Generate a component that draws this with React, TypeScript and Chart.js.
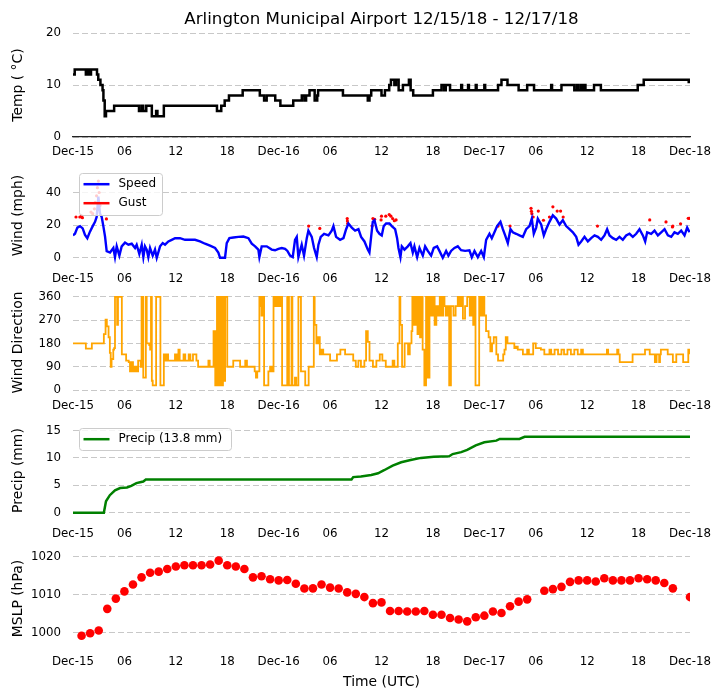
import React, { useEffect, useRef } from 'react';
import { Chart, registerables } from 'chart.js';

Chart.register(...registerables);

const FONT = 'DejaVu Sans';
const TITLE = 'Arlington Municipal Airport 12/15/18 - 12/17/18';

// x axis: hours since Dec-15 00 UTC
const HOUR_TICKS = [0, 6, 12, 18, 24, 30, 36, 42, 48, 54, 60, 66, 72];
const HOUR_LABELS = ['Dec-15', '06', '12', '18', 'Dec-16', '06', '12', '18', 'Dec-17', '06', '12', '18', 'Dec-18'];

// [hour, °C] (value holds until next entry)
const temperature: number[][] = [
  [0, 12], [0.2, 13], [1.5, 12], [1.7, 13], [1.95, 12], [2.1, 13], [2.8, 12], [2.95, 11], [3.2, 10], [3.45, 9],
  [3.55, 7], [3.7, 4], [3.85, 5], [4.8, 6], [7.7, 5], [8.0, 6], [8.2, 5], [8.55, 6], [9.2, 4], [9.7, 5],
  [9.85, 4], [10.6, 6], [16.8, 5], [17.3, 6], [17.7, 7], [18.2, 8], [19.8, 9], [21.8, 8], [22.3, 7], [22.6, 8],
  [23.6, 7], [24.2, 6], [25.7, 7], [26.7, 8], [27.0, 7], [27.2, 8], [27.6, 9], [28.2, 7], [28.5, 8], [28.6, 9],
  [31.5, 8], [34.4, 7], [34.6, 8], [34.8, 9], [36.0, 8], [36.4, 9], [36.9, 10], [37.1, 11], [37.5, 10], [37.7, 11],
  [38.0, 9], [38.5, 10], [39.2, 11], [39.4, 9], [39.7, 8], [42.0, 9], [43.0, 10], [43.3, 9], [43.5, 10], [44.0, 9],
  [45.3, 10], [45.4, 9], [46.1, 10], [46.2, 9], [47.0, 10], [47.1, 9], [48.0, 10], [48.1, 9], [49.6, 10], [50.0, 11],
  [50.7, 10], [52.0, 9], [53.0, 10], [53.8, 9], [55.8, 10], [55.9, 9], [57.0, 10], [58.5, 9], [58.8, 10], [59.0, 9],
  [59.3, 10], [59.5, 9], [59.6, 10], [59.8, 9], [60.8, 10], [61.6, 9], [65.9, 10], [66.6, 11], [71.85, 10.6], [72, 10.6],
];

// [hour, mph]
const windSpeed: number[][] = [
  [0, 13.7], [0.23, 14.7], [0.51, 18.5], [0.82, 19.4], [1.13, 18], [1.4, 14], [1.67, 12], [1.98, 16], [2.3, 19.4], [2.57, 22],
  [2.76, 25], [2.96, 37.5], [3.15, 27], [3.35, 25], [3.54, 19.4], [3.74, 13], [3.93, 4], [4.32, 3.2], [4.71, 6], [4.9, 0.4],
  [5.1, 7], [5.41, 1.3], [5.68, 7], [6.07, 9.3], [6.46, 8], [6.85, 8.6], [7.24, 6], [7.43, 8], [7.74, 2.3], [8.02, 8],
  [8.21, 0.4], [8.4, 7], [8.6, 5], [8.79, 0.4], [8.99, 6], [9.3, 1.3], [9.57, 5], [9.77, 0], [10.16, 7], [10.47, 9],
  [10.74, 8], [11.13, 10], [11.52, 11], [11.91, 12], [12.49, 12], [13.07, 11], [13.66, 11], [14.24, 11], [14.82, 10], [15.41, 8.6],
  [15.99, 7.4], [16.58, 6], [16.96, 3.2], [17.16, 0], [17.47, 0], [17.74, 0], [17.94, 9], [18.25, 12], [18.72, 12.4], [19.3, 12.8],
  [19.88, 13], [20.47, 12], [20.86, 8.6], [21.25, 7], [21.63, 5], [21.75, 0.4], [22.02, 7], [22.61, 7], [23.19, 5], [23.58, 4.6],
  [23.97, 5.5], [24.36, 6], [24.75, 5.5], [25.02, 4.2], [25.33, 1.3], [25.64, 0.4], [25.91, 11], [26.11, 12.8], [26.3, 0.4], [26.69, 8],
  [26.96, 1.3], [27.28, 12], [27.47, 16.6], [27.86, 12.8], [28.13, 6], [28.44, 0.4], [28.64, 8], [28.91, 12.8], [29.3, 14.7], [29.81, 13.7],
  [30.19, 16.6], [30.39, 19.4], [30.7, 12.8], [31.17, 11], [31.56, 12], [31.87, 17.5], [32.14, 21], [32.53, 18.5], [32.92, 16.6], [33.31, 17.5],
  [33.62, 12.8], [34.01, 10], [34.4, 5], [34.59, 3.2], [34.79, 12.8], [34.98, 22], [35.18, 23], [35.49, 16.6], [35.76, 14.7], [36.03, 13.7],
  [36.26, 19.4], [36.54, 21], [36.93, 21], [37.2, 19.4], [37.59, 17.5], [37.82, 12], [37.98, 6], [38.21, 0.4], [38.37, 7], [38.68, 5],
  [39.07, 7], [39.38, 9], [39.65, 3.2], [39.84, 7], [40.16, 0.4], [40.43, 6], [40.82, 1.3], [41.09, 7], [41.4, 4.2], [41.79, 1.3],
  [42.1, 6], [42.49, 7], [42.76, 4.2], [43.15, 0], [43.54, 4.2], [43.81, 1.3], [44.12, 4.2], [44.51, 6], [44.9, 7], [45.29, 4.6],
  [45.76, 4.2], [46.26, 4.6], [46.54, 0.4], [46.85, 4.2], [47.24, 0.4], [47.63, 4.2], [47.94, 0.4], [48.21, 11], [48.6, 14.7], [48.87, 12],
  [49.18, 15.6], [49.49, 19.4], [49.88, 22], [50.16, 17.5], [50.43, 13.7], [50.74, 9], [51.05, 17.5], [51.32, 15.6], [51.71, 14.7], [52.1, 13.7],
  [52.49, 12.8], [52.88, 17.5], [53.27, 19.4], [53.54, 24], [53.77, 14.7], [54.05, 18.5], [54.24, 24], [54.63, 20.4], [54.94, 13.7], [55.21, 17.5],
  [55.6, 22], [55.99, 26], [56.38, 24], [56.77, 20.4], [57.16, 23], [57.55, 19.4], [57.94, 17.5], [58.33, 15.6], [58.72, 12.8], [58.99, 8],
  [59.3, 10], [59.69, 12.8], [60.08, 10], [60.47, 12], [60.86, 13.7], [61.25, 12.8], [61.63, 11], [62.02, 13.7], [62.33, 17.5], [62.61, 13.7],
  [63.0, 12], [63.39, 11], [63.77, 12.8], [64.16, 11], [64.55, 13.7], [64.94, 14.7], [65.33, 12.8], [65.72, 14.7], [66.11, 17.5], [66.5, 13.7],
  [66.77, 10], [67.0, 15.6], [67.47, 14.7], [67.86, 16.6], [68.25, 13.7], [68.64, 15.6], [69.03, 17.5], [69.42, 13.7], [69.81, 12.8], [70.19, 15.6],
  [70.58, 14.7], [70.97, 16.6], [71.36, 13.7], [71.67, 18.5], [71.95, 15.6],
];

// [hour, mph]
const windGust: number[][] = [
  [0.35, 25], [0.8, 25], [1.0, 25.7], [1.1, 24.6], [2.1, 28], [2.3, 27], [2.5, 30], [2.6, 34], [2.75, 38], [2.85, 43],
  [2.96, 47], [3.05, 40], [3.15, 32], [3.9, 23.8], [27.5, 19.4], [28.8, 18], [32.0, 24], [32.02, 22.5], [32.05, 21], [34.9, 19.4],
  [35.0, 24], [35.2, 23.6], [35.95, 23.2], [36.0, 25.5], [36.5, 25.5], [36.9, 26.5], [37.1, 25.5], [37.3, 24], [37.5, 22.7], [37.7, 23.2],
  [49.6, 19.4], [51.0, 19.4], [53.45, 30.3], [53.5, 28.5], [53.55, 27], [53.7, 25], [54.3, 28.6], [54.9, 23], [55.6, 25], [56.0, 31.2],
  [56.5, 28.6], [56.9, 28.6], [57.2, 25], [61.2, 19.4], [67.3, 23.2], [69.2, 22], [69.95, 18.9], [70.0, 19.4], [70.9, 20.8], [71.8, 24.2],
  [71.95, 24.2],
];

// [hour, degrees] (value holds until next entry)
const windDirection: number[][] = [
  [0, 180], [1.5, 160], [2.2, 180], [3.6, 216], [3.8, 272], [3.95, 246], [4.15, 204], [4.3, 144], [4.4, 90], [4.5, 120],
  [4.7, 156], [4.8, 162], [4.9, 360], [5.15, 252], [5.25, 360], [5.7, 138], [6.2, 114], [6.5, 108], [6.65, 72], [6.85, 108],
  [7.0, 72], [7.2, 90], [7.4, 72], [7.6, 114], [7.9, 90], [8.0, 360], [8.2, 48], [8.5, 360], [8.6, 180], [8.9, 174],
  [9.0, 156], [9.1, 360], [9.2, 36], [9.3, 18], [9.7, 360], [10.2, 18], [10.6, 138], [10.75, 114], [10.9, 138], [11.1, 114],
  [11.9, 138], [12.1, 114], [12.3, 156], [12.45, 114], [12.9, 138], [13.1, 114], [13.5, 138], [13.7, 114], [14.0, 138], [14.4, 114],
  [14.6, 90], [15.8, 114], [15.95, 90], [16.4, 228], [16.6, 18], [16.8, 360], [17.0, 18], [17.2, 360], [17.35, 18], [17.5, 360],
  [17.6, 36], [17.75, 360], [18.0, 90], [18.7, 114], [19.5, 90], [20.1, 114], [20.3, 90], [21.2, 72], [21.35, 48], [21.5, 72],
  [21.75, 360], [21.9, 324], [22.0, 288], [22.1, 360], [22.3, 18], [22.8, 72], [23.0, 90], [23.2, 72], [23.4, 360], [23.6, 324],
  [23.8, 360], [24.0, 324], [24.2, 360], [24.4, 18], [25.0, 360], [25.2, 18], [25.5, 360], [25.6, 18], [25.9, 48], [26.05, 18],
  [26.3, 360], [26.6, 72], [27.1, 18], [27.5, 90], [28.1, 360], [28.2, 252], [28.4, 180], [28.6, 204], [28.8, 138], [29.0, 156],
  [29.2, 138], [30.0, 114], [30.8, 138], [31.2, 156], [31.75, 138], [32.7, 114], [33.0, 90], [33.3, 114], [33.6, 90], [34.0, 114],
  [34.2, 228], [34.4, 186], [34.6, 114], [35.0, 90], [35.4, 114], [35.8, 138], [36.1, 114], [36.5, 90], [37.3, 114], [37.5, 90],
  [37.9, 180], [38.1, 360], [38.2, 252], [38.4, 90], [38.7, 180], [39.1, 138], [39.3, 180], [39.5, 228], [39.6, 360], [39.8, 252],
  [40.0, 360], [40.2, 216], [40.35, 360], [40.5, 204], [40.65, 360], [40.8, 156], [41.0, 18], [41.2, 360], [41.4, 48], [41.6, 360],
  [41.8, 288], [42.0, 360], [42.2, 252], [42.4, 324], [42.6, 288], [42.8, 360], [43.0, 288], [43.2, 360], [43.35, 324], [43.5, 288],
  [43.7, 324], [43.9, 18], [44.1, 324], [44.4, 288], [44.65, 324], [44.9, 360], [45.1, 324], [45.3, 360], [45.5, 276], [45.75, 324],
  [46.0, 360], [46.3, 288], [46.5, 360], [46.7, 252], [46.9, 360], [46.97, 18], [47.4, 360], [47.6, 288], [47.8, 360], [48.0, 288],
  [48.2, 228], [48.5, 204], [48.7, 150], [48.9, 180], [49.1, 204], [49.4, 138], [49.6, 114], [50.2, 138], [50.35, 156], [50.5, 204],
  [50.7, 180], [51.5, 162], [51.7, 168], [51.9, 156], [52.5, 138], [53.0, 156], [53.2, 138], [53.7, 180], [54.0, 162], [54.6, 156],
  [55.0, 138], [55.6, 156], [55.8, 138], [56.2, 156], [56.6, 138], [57.0, 156], [57.3, 138], [57.7, 156], [58.1, 138], [58.5, 156],
  [58.9, 138], [59.3, 156], [59.5, 138], [62.3, 156], [62.45, 138], [63.5, 156], [63.65, 138], [63.8, 108], [65.3, 138], [66.75, 156],
  [67.3, 138], [67.9, 108], [68.1, 138], [68.4, 108], [68.5, 138], [68.6, 156], [69.4, 138], [70.0, 108], [70.4, 138], [71.2, 108],
  [71.8, 156], [72.0, 138],
];

// [hour, mm accumulated]
const precipitation: number[][] = [
  [0, 0], [3.6, 0], [3.85, 2.1], [4.3, 3.2], [4.9, 4.1], [5.5, 4.5], [6.3, 4.6], [6.8, 4.9], [7.4, 5.4], [8.2, 5.7],
  [8.5, 6.05], [32.5, 6.05], [32.7, 6.5], [33.6, 6.6], [34.8, 6.9], [35.6, 7.2], [36.3, 7.75], [37.3, 8.6], [38.3, 9.2], [39.4, 9.6],
  [40.6, 10.0], [42.1, 10.2], [43.9, 10.3], [44.3, 10.7], [45.3, 11.05], [46.0, 11.45], [47.0, 12.3], [48.0, 12.85], [49.4, 13.15], [49.8, 13.45],
  [52.1, 13.45], [52.7, 13.85], [72, 13.85],
];

const mslpHours = [
  1, 2, 3, 4, 5, 6, 7, 8, 9, 10, 11, 12, 13, 14, 15, 16, 17, 18, 19, 20,
  21, 22, 23, 24, 25, 26, 27, 28, 29, 30, 31, 32, 33, 34, 35, 36, 37, 38, 39, 40,
  41, 42, 43, 44, 45, 46, 47, 48, 49, 50, 51, 52, 53, 55, 56, 57, 58, 59, 60, 61,
  62, 63, 64, 65, 66, 67, 68, 69, 70, 72,
];
const mslpValues = [
  999.2, 999.85, 1000.6, 1006.3, 1009.0, 1010.9, 1012.7, 1014.6, 1015.8, 1016.1, 1016.8, 1017.45, 1017.8, 1017.8, 1017.8, 1018.0, 1019.0, 1017.8, 1017.45, 1016.8,
  1014.6, 1014.9, 1014.1, 1013.8, 1013.9, 1012.9, 1011.65, 1011.7, 1012.7, 1011.9, 1011.65, 1010.65, 1010.25, 1009.4, 1007.8, 1008.0, 1005.75, 1005.75, 1005.6, 1005.6,
  1005.75, 1004.75, 1004.75, 1003.9, 1003.5, 1003.0, 1004.1, 1004.5, 1005.6, 1005.2, 1007.0, 1008.2, 1008.8, 1011.05, 1011.5, 1012.1, 1013.4, 1013.8, 1013.8, 1013.5,
  1014.35, 1013.8, 1013.8, 1013.8, 1014.35, 1014.1, 1013.8, 1013.1, 1011.7, 1009.4,
];

const TEMP_TICKS = [0, 10, 20];
const WIND_TICKS = [0, 20, 40];
const DIR_TICKS = [0, 90, 180, 270, 360];
const PRECIP_TICKS = [0, 5, 10, 15];
const MSLP_TICKS = [1000, 1010, 1020];

const PRECIP_LABEL = 'Precip (13.8 mm)';

const toXY = (rows: number[][]) => rows.map((r) => ({ x: r[0], y: r[1] }));

const PLOT_H = 104;

type LegendItem = { label: string; color: string };
type PanelSpec = {
  top: number;
  padTop: number;
  xH: number;
  yMin: number;
  yMax: number;
  yTicks: number[];
  yTitle: string;
  datasets: any[];
  xBorder?: boolean;
  xTitle?: string;
  title?: string;
  legend?: { items: LegendItem[]; width: number };
};

const PANELS: PanelSpec[] = [
  {
    top: 0, padTop: 33, xH: 24, yMin: 0, yMax: 20, yTicks: TEMP_TICKS, yTitle: 'Temp ( °C)',
    xBorder: true, title: TITLE,
    datasets: [{ data: toXY(temperature), borderColor: '#000000', borderWidth: 2.5, pointRadius: 0, stepped: true }],
  },
  {
    top: 148, padTop: 12, xH: 24, yMin: -3.83, yMax: 55.6, yTicks: WIND_TICKS, yTitle: 'Wind (mph)',
    legend: { items: [{ label: 'Speed', color: '#0000ff' }, { label: 'Gust', color: '#ff0000' }], width: 83 },
    datasets: [
      { data: toXY(windSpeed), borderColor: '#0000ff', borderWidth: 2.4, pointRadius: 0, tension: 0 },
      { data: toXY(windGust), showLine: false, pointRadius: 1.6, pointBackgroundColor: '#ff0000', pointBorderWidth: 0, borderColor: '#ff0000' },
    ],
  },
  {
    top: 275, padTop: 12, xH: 24, yMin: -3.6, yMax: 370.8, yTicks: DIR_TICKS, yTitle: 'Wind Direction',
    datasets: [{ data: toXY(windDirection), borderColor: '#ffa500', borderWidth: 1.8, pointRadius: 0, stepped: true }],
  },
  {
    top: 403, padTop: 12, xH: 24, yMin: -1.14, yMax: 16.53, yTicks: PRECIP_TICKS, yTitle: 'Precip (mm)',
    legend: { items: [{ label: PRECIP_LABEL, color: '#008000' }], width: 152 },
    datasets: [{ data: toXY(precipitation), borderColor: '#008000', borderWidth: 2.5, pointRadius: 0 }],
  },
  {
    top: 531, padTop: 12, xH: 46, yMin: 996.24, yMax: 1021.79, yTicks: MSLP_TICKS, yTitle: 'MSLP (hPa)',
    xTitle: 'Time (UTC)',
    datasets: [{
      data: mslpHours.map((h, i) => ({ x: h, y: mslpValues[i] })), showLine: false,
      pointRadius: 4.3, pointBackgroundColor: '#ff0000', pointBorderWidth: 0, borderColor: '#ff0000',
    }],
  },
];

function drawLegend(ctx: CanvasRenderingContext2D, area: any, legend: { items: LegendItem[]; width: number }) {
  const x0 = Math.round(area.left + 6) + 0.5;
  const y0 = Math.round(area.top + 6) + 0.5;
  const h = legend.items.length === 1 ? 22 : 42;
  ctx.save();
  ctx.beginPath();
  if ((ctx as any).roundRect) (ctx as any).roundRect(x0, y0, legend.width, h, 3);
  else ctx.rect(x0, y0, legend.width, h);
  ctx.fillStyle = 'rgba(255,255,255,0.8)';
  ctx.fill();
  ctx.strokeStyle = '#cccccc';
  ctx.lineWidth = 1;
  ctx.stroke();
  legend.items.forEach((it, i) => {
    const cy = y0 + 10.7 + i * 19;
    ctx.strokeStyle = it.color;
    ctx.lineWidth = 2.5;
    ctx.beginPath();
    ctx.moveTo(x0 + 4, cy);
    ctx.lineTo(x0 + 30, cy);
    ctx.stroke();
    ctx.fillStyle = '#000';
    ctx.font = `12px "${FONT}"`;
    ctx.textAlign = 'left';
    ctx.textBaseline = 'middle';
    ctx.fillText(it.label, x0 + 39, cy);
  });
  ctx.restore();
}

function makeChart(canvas: HTMLCanvasElement, spec: PanelSpec) {
  const overlay = {
    id: 'overlay',
    afterDraw(chart: any) {
      const ctx = chart.ctx as CanvasRenderingContext2D;
      const area = chart.chartArea;
      if (spec.legend) drawLegend(ctx, area, spec.legend);
      if (spec.title) {
        ctx.save();
        ctx.fillStyle = '#000';
        ctx.font = `16.67px "${FONT}"`;
        ctx.textAlign = 'center';
        ctx.textBaseline = 'alphabetic';
        ctx.fillText(spec.title, (area.left + area.right) / 2, 24);
        ctx.restore();
      }
    },
  };
  return new Chart(canvas, {
    type: 'line',
    data: { datasets: spec.datasets },
    options: {
      animation: false,
      responsive: false,
      events: [],
      layout: { padding: { top: spec.padTop, left: 0, right: 32, bottom: 0 } },
      plugins: { legend: { display: false }, tooltip: { enabled: false }, title: { display: false } },
      scales: {
        x: {
          type: 'linear',
          min: 0,
          max: 72,
          afterBuildTicks: (s: any) => { s.ticks = HOUR_TICKS.map((v) => ({ value: v })); },
          afterFit: (s: any) => { s.height = spec.xH; },
          ticks: {
            autoSkip: false,
            maxRotation: 0,
            minRotation: 0,
            padding: 8,
            color: '#000',
            font: { family: FONT, size: 11.8 },
            callback: (_v: any, i: number) => HOUR_LABELS[i],
          },
          grid: { display: false, drawTicks: false },
          border: { display: !!spec.xBorder, color: '#222222', width: 1.3 },
          title: spec.xTitle
            ? { display: true, text: spec.xTitle, color: '#000', font: { family: FONT, size: 13.9 }, padding: { top: 0, bottom: 2 } }
            : { display: false },
        },
        y: {
          type: 'linear',
          min: spec.yMin,
          max: spec.yMax,
          afterBuildTicks: (s: any) => { s.ticks = spec.yTicks.map((v) => ({ value: v })); },
          afterFit: (s: any) => { s.width = 73; },
          ticks: {
            padding: 12,
            color: '#000',
            font: { family: FONT, size: 11.8 },
            callback: (v: any) => String(v),
          },
          grid: { color: '#c8c8c8', lineWidth: 1, drawTicks: false },
          border: { display: false, dash: [6, 3] },
          title: { display: true, text: spec.yTitle, color: '#000', font: { family: FONT, size: 13.9 }, padding: { top: 10, bottom: 0 } },
        },
      },
    } as any,
    plugins: [overlay],
  });
}

export default function App() {
  const refs = useRef<(HTMLCanvasElement | null)[]>([]);
  useEffect(() => {
    const charts = PANELS.map((spec, i) => makeChart(refs.current[i] as HTMLCanvasElement, spec));
    return () => charts.forEach((c) => c.destroy());
  }, []);
  return (
    <div style={{ position: 'absolute', left: 0, top: 0, width: 722, height: 700, background: '#ffffff' }}>
      {PANELS.map((spec, i) => (
        <canvas
          key={i}
          ref={(el) => { refs.current[i] = el; }}
          width={722}
          height={spec.padTop + PLOT_H + spec.xH}
          style={{ position: 'absolute', left: 0, top: spec.top }}
        />
      ))}
    </div>
  );
}
